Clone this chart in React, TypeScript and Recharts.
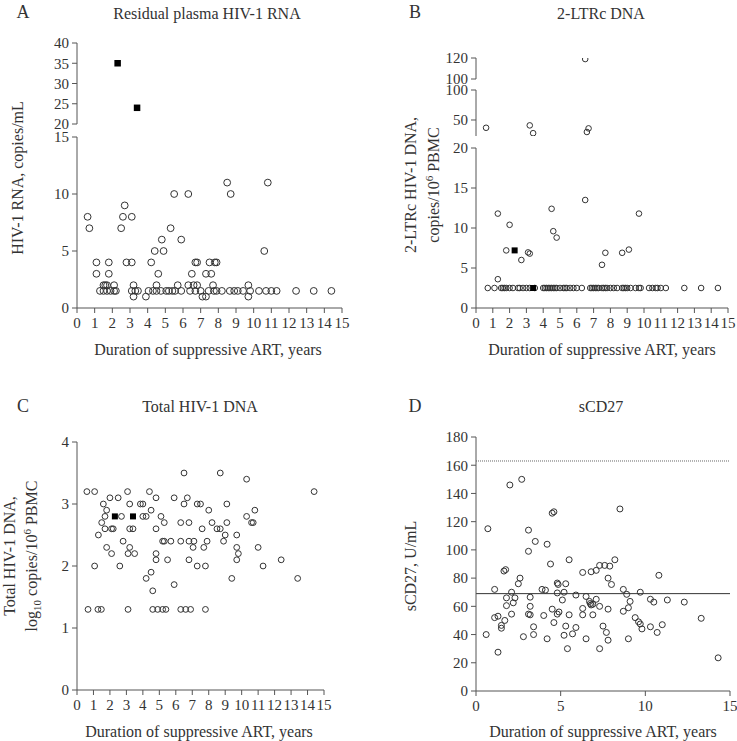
import React from 'react';
import { ScatterChart, Scatter, XAxis, YAxis, ReferenceLine } from 'recharts';

type Pt = [number, number];

const FONT = '"Liberation Serif", "DejaVu Serif", serif';
const INK = '#333';
const AXIS = '#555';

// tick labels
const yearTicks = [0, 1, 2, 3, 4, 5, 6, 7, 8, 9, 10, 11, 12, 13, 14, 15];
const coarseYearTicks = [0, 5, 10, 15];
const rnaLowTicks = [0, 5, 10, 15];
const rnaHighTicks = [20, 25, 30, 35, 40];
const ltrLowTicks = [0, 5, 10, 15, 20];
const ltrMidTicks = [50, 100];
const ltrTopTicks = [100, 120];
const dnaTicks = [0, 1, 2, 3, 4];
const cd27Ticks = [0, 20, 40, 60, 80, 100, 120, 140, 160, 180];

// A: residual plasma HIV-1 RNA (years, copies/mL)
const rnaOpen: Pt[] = [
  [0.6, 8], [2.6, 8], [3.1, 8], [0.7, 7], [2.5, 7], [5.3, 7], [2.7, 9],
  [5.5, 10], [6.3, 10], [8.7, 10], [8.5, 11], [10.8, 11], [4.8, 6], [5.9, 6],
  [4.4, 5], [4.9, 5], [10.6, 5],
  [1.1, 4], [1.8, 4], [2.8, 4], [3.1, 4], [4.2, 4], [6.7, 4], [6.8, 4], [7.5, 4], [7.8, 4], [7.9, 4],
  [1.1, 3], [1.8, 3], [4.6, 3], [6.5, 3], [7.3, 3], [7.6, 3],
  [1.5, 2], [1.6, 2], [1.7, 2], [2.1, 2], [3.2, 2], [4.5, 2], [5.7, 2], [6.3, 2], [6.6, 2], [6.8, 2], [7.7, 2], [9.7, 2],
  [1.3, 1.5], [1.5, 1.5], [1.7, 1.5], [1.9, 1.5], [2.1, 1.5], [2.2, 1.5], [3.1, 1.5], [3.3, 1.5], [3.45, 1.5],
  [4.05, 1.5], [4.3, 1.5], [4.5, 1.5], [4.75, 1.5], [5.05, 1.5], [5.2, 1.5], [5.4, 1.5], [5.55, 1.5], [5.9, 1.5],
  [6.4, 1.5], [6.7, 1.5], [7.0, 1.5], [7.45, 1.5], [7.75, 1.5], [7.9, 1.5], [8.2, 1.5], [8.65, 1.5], [8.9, 1.5],
  [9.1, 1.5], [9.4, 1.5], [9.8, 1.5], [10.3, 1.5], [10.7, 1.5], [11.0, 1.5], [11.3, 1.5], [12.4, 1.5], [13.4, 1.5], [14.4, 1.5],
  [3.2, 1], [3.9, 1], [7.1, 1], [7.3, 1], [9.7, 1],
];
const rnaFilled: Pt[] = [[2.3, 35], [3.4, 24]];

// B: 2-LTRc DNA
const ltrRowYears = [
  0.7, 1.1, 1.5, 1.6, 1.7, 1.8, 2.0, 2.2, 2.5, 2.6, 2.8, 3.0, 3.2, 3.5, 4.0, 4.1, 4.2, 4.3, 4.4, 4.5,
  4.6, 4.7, 4.8, 5.0, 5.2, 5.3, 5.4, 5.6, 5.8, 6.0, 6.3, 6.8, 6.9, 7.0, 7.1, 7.2, 7.3, 7.5, 7.6, 7.7,
  7.8, 8.0, 8.2, 8.4, 8.7, 8.8, 8.9, 9.0, 9.2, 9.5, 9.7, 9.8, 10.3, 10.5, 10.7, 10.8, 11.0, 11.3, 12.4, 13.4, 14.4,
];
const ltrLowOpen: Pt[] = [
  [1.3, 11.8], [2.0, 10.4], [1.8, 7.2], [2.7, 6.0], [3.1, 6.95], [3.2, 6.8], [1.3, 3.6], [4.5, 12.4],
  [4.6, 9.6], [4.8, 8.8], [6.5, 13.5], [9.7, 11.8], [7.5, 5.4], [7.7, 6.9], [8.7, 6.9], [9.1, 7.3],
  ...ltrRowYears.map((x): Pt => [x, 2.5]),
];
const ltrLowFilled: Pt[] = [[2.3, 7.2], [3.4, 2.5]];
const ltrMidOpen: Pt[] = [[0.6, 37], [3.2, 41], [3.4, 28], [6.7, 36], [6.6, 30]];
const ltrTopOpen: Pt[] = [[6.5, 119]];

// C: total HIV-1 DNA (log10 copies/10^6 PBMC)
const dnaOpen: Pt[] = [
  [6.5, 3.5], [8.7, 3.5], [10.3, 3.4],
  [0.6, 3.2], [1.07, 3.2], [3.07, 3.2], [4.4, 3.2], [14.4, 3.2],
  [2.0, 3.1], [2.5, 3.1], [4.8, 3.1], [5.9, 3.1], [6.7, 3.1],
  [1.6, 3.0], [3.2, 3.0], [3.85, 3.0], [4.0, 3.0], [6.5, 3.0], [7.3, 3.0], [7.5, 3.0], [9.1, 3.0],
  [1.8, 2.9], [4.5, 2.9], [8.0, 2.9], [10.8, 2.9],
  [1.7, 2.8], [2.7, 2.8], [4.0, 2.8], [4.2, 2.8], [5.1, 2.8], [10.3, 2.8],
  [1.5, 2.7], [5.3, 2.7], [6.3, 2.7], [6.8, 2.7], [8.2, 2.7], [9.1, 2.7], [10.6, 2.7], [10.7, 2.7],
  [1.7, 2.6], [2.1, 2.6], [2.2, 2.6], [3.2, 2.6], [3.4, 2.6], [4.8, 2.6], [7.6, 2.6], [8.5, 2.6], [8.7, 2.6],
  [1.3, 2.5], [9.0, 2.5], [9.7, 2.5],
  [2.8, 2.4], [5.2, 2.4], [5.3, 2.4], [5.7, 2.4], [6.3, 2.4], [6.8, 2.4], [7.1, 2.4], [7.9, 2.4], [8.9, 2.4],
  [1.8, 2.3], [3.2, 2.3], [7.05, 2.3], [7.7, 2.3], [9.7, 2.3], [11.0, 2.3],
  [2.1, 2.2], [3.1, 2.2], [3.5, 2.2], [4.8, 2.2], [9.8, 2.2],
  [4.8, 2.1], [5.5, 2.1], [6.8, 2.1], [9.7, 2.1], [12.4, 2.1],
  [1.07, 2.0], [2.6, 2.0], [7.3, 2.0], [7.8, 2.0], [11.3, 2.0],
  [4.5, 1.9], [4.2, 1.8], [9.4, 1.8], [13.4, 1.8], [5.9, 1.7], [4.6, 1.6],
  [0.67, 1.3], [1.27, 1.3], [1.48, 1.3], [3.1, 1.3], [4.6, 1.3], [4.9, 1.3], [5.2, 1.3], [5.4, 1.3],
  [6.3, 1.3], [6.6, 1.3], [6.9, 1.3], [7.8, 1.3],
];
const dnaFilled: Pt[] = [[2.3, 2.8], [3.4, 2.8]];

// D: sCD27 (U/mL)
const cd27Open: Pt[] = [
  [0.7, 115], [2.0, 146], [2.7, 150], [3.1, 114], [3.5, 106], [4.2, 104], [4.5, 126], [4.6, 127], [8.5, 129], [3.1, 99],
  [4.4, 90], [5.5, 93], [8.2, 93], [1.65, 85], [1.75, 86], [2.6, 80], [2.5, 76], [1.1, 72], [3.9, 72], [4.1, 71.5],
  [4.8, 76.5], [4.85, 75.5], [5.3, 76], [6.3, 84], [6.8, 84.5], [7.1, 85.5], [7.3, 89], [7.6, 89], [7.9, 88.5],
  [7.8, 80], [8.0, 75.5], [10.8, 82],
  [2.1, 70], [4.8, 69.5], [5.2, 70], [5.9, 68], [6.5, 67], [6.7, 63.5], [6.8, 61], [6.75, 62], [7.1, 65], [8.7, 72],
  [8.9, 68.5], [9.7, 70], [10.3, 65], [10.5, 63], [11.3, 64.5], [12.3, 63], [13.3, 51.5], [14.3, 23.5],
  [1.8, 66], [2.3, 66], [2.2, 62.5], [1.8, 60.5], [2.1, 54.5], [3.2, 66.5], [3.2, 60], [3.1, 54.5], [3.2, 54],
  [5.1, 64.5], [4.5, 58], [4.9, 56], [4.8, 54.5], [4.0, 53.5], [4.6, 48.5], [5.5, 54], [6.3, 58.5], [6.3, 54],
  [6.9, 54], [6.9, 61.5], [7.3, 60], [7.8, 58], [8.7, 56.5], [9.0, 59], [9.1, 63.5], [9.4, 52], [9.6, 49],
  [9.7, 47.5], [9.8, 44], [10.3, 45.5], [11.0, 47], [10.7, 41.5],
  [1.1, 52], [1.3, 53], [1.7, 50], [1.5, 46.5], [1.5, 44.5], [3.4, 45.5], [3.4, 40], [0.6, 40], [2.8, 38.5],
  [4.2, 37], [5.3, 46], [5.9, 45], [5.2, 39.5], [5.7, 40.5], [6.5, 37], [7.5, 46], [7.7, 41.5], [7.8, 36],
  [9.0, 37], [5.4, 30], [7.3, 30], [1.3, 27.5],
];
const cd27Upper = 163;
const cd27Median = 69;

const rows = (pts: Pt[]) => pts.map(([x, y]) => ({ x, y }));

const ring = (r: number) => (p: any) => (
  <circle cx={p.cx} cy={p.cy} r={r} fill="none" stroke="#333" strokeWidth={1} />
);
const block = (s: number) => (p: any) => (
  <rect x={p.cx - s / 2} y={p.cy - s / 2} width={s} height={s} fill="#000" />
);

const tickStyle = { fill: INK, fontSize: 15, fontFamily: FONT };

interface SegmentProps {
  left: number;
  top: number;
  w: number;
  h: number;
  yDomain: [number, number];
  yTicks: number[];
  xTicks?: number[];
  open?: Pt[];
  filled?: Pt[];
  r?: number;
  s?: number;
  children?: React.ReactNode;
}

// one axis segment; left/top/w/h describe the plot box on the page
function Segment({ left, top, w, h, yDomain, yTicks, xTicks, open = [], filled = [], r = 3, s = 6, children }: SegmentProps) {
  const yw = 50;
  const mt = 10;
  const mr = 12;
  const mb = xTicks ? 4 : 12;
  const xh = xTicks ? 30 : 0;
  return (
    <div style={{ position: 'absolute', left: left - yw, top: top - mt }}>
      <ScatterChart
        width={yw + w + mr}
        height={mt + h + xh + mb}
        margin={{ top: mt, right: mr, left: 0, bottom: mb }}
      >
        <XAxis
          type="number"
          dataKey="x"
          domain={[0, 15]}
          ticks={xTicks ?? [0, 15]}
          interval={0}
          hide={!xTicks}
          height={xh}
          tickSize={5}
          tickMargin={4}
          stroke={AXIS}
          tick={tickStyle}
        />
        <YAxis
          type="number"
          dataKey="y"
          domain={yDomain}
          ticks={yTicks}
          interval={0}
          width={yw}
          tickSize={5}
          tickMargin={3}
          stroke={AXIS}
          tick={tickStyle}
          allowDataOverflow
        />
        {children}
        <Scatter data={rows(open)} shape={ring(r)} isAnimationActive={false} />
        {filled.length > 0 && <Scatter data={rows(filled)} shape={block(s)} isAnimationActive={false} />}
      </ScatterChart>
    </div>
  );
}

function Labels() {
  const text = { fill: INK, fontFamily: FONT };
  const xLabel = 'Duration of suppressive ART, years';
  return (
    <svg width={737} height={741} style={{ position: 'absolute', left: 0, top: 0, pointerEvents: 'none' }}>
      <g {...text} fontSize={18}>
        <text x={23} y={18} textAnchor="middle">A</text>
        <text x={415} y={18} textAnchor="middle">B</text>
        <text x={23} y={412} textAnchor="middle">C</text>
        <text x={415} y={412} textAnchor="middle">D</text>
      </g>
      <g {...text} fontSize={16} textAnchor="middle">
        <text x={207} y={19}>Residual plasma HIV-1 RNA</text>
        <text x={601} y={19}>2-LTRc DNA</text>
        <text x={200} y={412}>Total HIV-1 DNA</text>
        <text x={601} y={412}>sCD27</text>
        <text x={208} y={355}>{xLabel}</text>
        <text x={602} y={355}>{xLabel}</text>
        <text x={199} y={737}>{xLabel}</text>
        <text x={603} y={737}>{xLabel}</text>

        <text transform="translate(23,178) rotate(-90)">HIV-1 RNA, copies/mL</text>

        <text transform="translate(416,185) rotate(-90)">2-LTRc HIV-1 DNA,</text>
        <text transform="translate(439,185) rotate(-90)">
          copies/10<tspan fontSize={11} dy={-6}>6</tspan><tspan dy={6}> PBMC</tspan>
        </text>

        <text transform="translate(15,556) rotate(-90)">Total HIV-1 DNA,</text>
        <text transform="translate(37,556) rotate(-90)">
          log<tspan fontSize={11} dy={4}>10</tspan><tspan dy={-4}> copies/10</tspan>
          <tspan fontSize={11} dy={-6}>6</tspan><tspan dy={6}> PBMC</tspan>
        </text>

        <text transform="translate(416,566) rotate(-90)">sCD27, U/mL</text>
      </g>
    </svg>
  );
}

export default function App() {
  return (
    <div style={{ position: 'absolute', left: 0, top: 0, width: 737, height: 741, background: '#fff', fontFamily: FONT }}>
      {/* A */}
      <Segment left={77} top={43} w={265} h={81} yDomain={[20, 40]} yTicks={rnaHighTicks} filled={rnaFilled} s={6.5} />
      <Segment left={77} top={137} w={265} h={171} yDomain={[0, 15]} yTicks={rnaLowTicks} xTicks={yearTicks} open={rnaOpen} r={3.4} />
      {/* B */}
      <Segment left={476} top={58} w={252} h={21} yDomain={[100, 120]} yTicks={ltrTopTicks} open={ltrTopOpen} r={2.8} />
      <Segment left={476} top={90} w={252} h={46} yDomain={[23.3, 100]} yTicks={ltrMidTicks} open={ltrMidOpen} r={2.8} />
      <Segment left={476} top={148} w={252} h={160} yDomain={[0, 20]} yTicks={ltrLowTicks} xTicks={yearTicks} open={ltrLowOpen} filled={ltrLowFilled} r={2.8} s={6} />
      {/* C */}
      <Segment left={77} top={442} w={247} h={248} yDomain={[0, 4]} yTicks={dnaTicks} xTicks={yearTicks} open={dnaOpen} filled={dnaFilled} r={2.9} s={6} />
      {/* D */}
      <Segment left={476} top={437} w={254} h={254} yDomain={[0, 180]} yTicks={cd27Ticks} xTicks={coarseYearTicks} open={cd27Open} r={3}>
        <ReferenceLine y={cd27Upper} stroke="#666" strokeDasharray="1 1" />
        <ReferenceLine y={cd27Median} stroke="#333" />
      </Segment>
      <Labels />
    </div>
  );
}
